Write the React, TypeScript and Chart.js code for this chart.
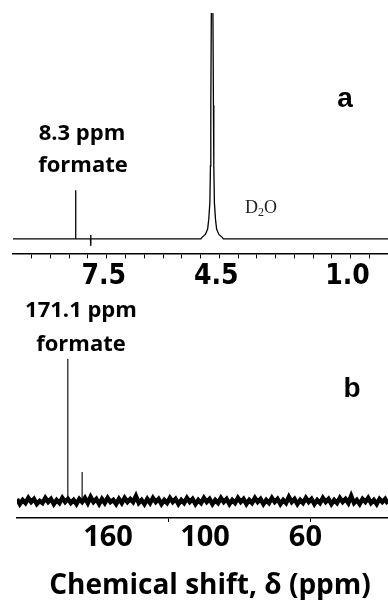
import React, { useEffect, useRef } from 'react';
import { Chart, registerables } from 'chart.js';

Chart.register(...registerables);

// ---------- Panel a: 1H NMR spectrum ----------
const aShift = [10.0, 8.4, 8.335, 8.33, 8.325, 7.935, 7.93, 7.925, 7.92, 4.99, 4.96, 4.87, 4.81, 4.78, 4.75, 4.735, 4.725, 4.705, 4.69, 4.675, 4.655, 4.645, 4.63, 4.6, 4.57, 4.51, 4.42, 4.39, 0.0];
const aIntensity = [0, 0, 0, 20, 0, 0, 1.6, -2.9, 0, 0, 0.6, 1.8, 4, 8, 15, 30, 55, 110, 160, 110, 55, 30, 15, 8, 4, 1.8, 0.6, 0, 0];
const aTickValues = [9.5, 9.0, 8.5, 8.0, 7.5, 7.0, 6.5, 6.0, 5.5, 5.0, 4.5, 4.0, 3.5, 3.0, 2.5, 2.0, 1.5, 1.0, 0.5];
const aTickLabels = ['7.5', '4.5', '1.0'];

// ---------- Panel b: 13C NMR spectrum ----------
const bNoiseShift = [
  207, 205, 203, 201, 199, 197, 195, 193, 191, 189,
  187, 185, 183, 181, 179, 177, 175, 173, 171, 169,
  167, 165, 163, 161, 159, 157, 155, 153, 151, 149,
  147, 145, 143, 141, 139, 137, 135, 133, 131, 129,
  127, 125, 123, 121, 119, 117, 115, 113, 111, 109,
  107, 105, 103, 101, 99, 97, 95, 93, 91, 89,
  87, 85, 83, 81, 79, 77, 75, 73, 71, 69,
  67, 65, 63, 61, 59, 57, 55, 53, 51, 49,
  47, 45, 43, 41, 39, 37, 35, 33, 31, 29,
  27, 25, 23, 21, 19, 17, 15, 13, 11, 9,
  7, 5, 3, 1, -1, -3, -5, -7, -9, -11,
  -13, -15, -17, -19, -21, -23, -25, -27, -29, -31,
  -33, -35, -37, -39, -41, -43, -45, -47, -49, -51,
  -53, -55,
];
const bNoise = [
  2, -3, 1, -2, 3, -1, 2, -3, 0, -2,
  3, -1, 2, -3, 1, -2, 3, -1, 2, -2,
  1, -3, 2, -1, 3, -2, 4, -1, 2, -3,
  2, -2, 3, -1, 1, -3, 2, -2, 3, -1,
  2, -1, 5, -2, 1, -3, 2, -2, 3, -1,
  2, -3, 1, -2, 3, -1, 2, -3, 1, -2,
  3, -1, 2, -3, 1, -2, 3, -1, 2, -3,
  1, -2, 3, -1, 2, -3, 1, -2, 3, -1,
  2, -3, 1, -2, 3, -1, 2, -3, 1, -2,
  3, -1, 2, -3, 1, -2, 4, -1, 2, -3,
  1, -2, 3, -1, 2, -3, 1, -2, 3, -1,
  2, -3, 1, -2, 3, -1, 2, -2, 5, -2,
  1, -3, 2, -1, 3, -2, 1, -3, 2, -1,
  2, -3,
];
const bPeakShift = [171.1, 161.0];
const bPeakHeight = [142, 29];
const bTickValues = [100, 0];
const bTickLabels = ['160', '100', '60'];
const bTickLabelAt = [142.7, 74.2, 3.3];

const LABEL_FONT = '"Open Sans", "DejaVu Sans", sans-serif';

function txt(ctx: CanvasRenderingContext2D, s: string, x: number, y: number, font: string, align: CanvasTextAlign = 'center', color = '#000') {
  ctx.save();
  ctx.font = font;
  ctx.fillStyle = color;
  ctx.textAlign = align;
  ctx.textBaseline = 'alphabetic';
  ctx.fillText(s, x, y);
  ctx.restore();
}

const annotA = {
  id: 'annotA',
  afterDraw(chart: any) {
    const ctx = chart.ctx as CanvasRenderingContext2D;
    txt(ctx, '8.3 ppm', 82, 140, `bold 22px ${LABEL_FONT}`);
    txt(ctx, 'formate', 83, 172, `bold 22px ${LABEL_FONT}`);
    txt(ctx, 'a', 345, 107, 'bold 28px "Liberation Sans", Arial, sans-serif');
    // D2O
    ctx.save();
    ctx.fillStyle = '#222';
    ctx.textBaseline = 'alphabetic';
    ctx.textAlign = 'left';
    ctx.font = '18px "Liberation Serif", serif';
    let x = 245;
    ctx.fillText('D', x, 213);
    x += ctx.measureText('D').width;
    ctx.font = '12px "Liberation Serif", serif';
    ctx.fillText('2', x, 216);
    x += ctx.measureText('2').width;
    ctx.font = '18px "Liberation Serif", serif';
    ctx.fillText('O', x, 213);
    ctx.restore();
  },
};

const annotB = {
  id: 'annotB',
  afterDraw(chart: any) {
    const ctx = chart.ctx as CanvasRenderingContext2D;
    const xs = chart.scales.x;
    txt(ctx, '171.1 ppm', 81, 27, `bold 22px ${LABEL_FONT}`);
    txt(ctx, 'formate', 81, 61, `bold 22px ${LABEL_FONT}`);
    txt(ctx, 'b', 352, 107, 'bold 28px "Liberation Sans", Arial, sans-serif');
    bTickLabels.forEach((lab, i) => {
      txt(ctx, lab, xs.getPixelForValue(bTickLabelAt[i]), 256, `bold 29px ${LABEL_FONT}`);
    });
    txt(ctx, 'Chemical shift, \u03b4 (ppm)', 210, 304, `bold 28px ${LABEL_FONT}`);
  },
};

export default function App() {
  const refA = useRef<HTMLCanvasElement>(null);
  const refB = useRef<HTMLCanvasElement>(null);

  useEffect(() => {
    const ca = new Chart(refA.current!, {
      type: 'line',
      data: {
        datasets: [
          {
            data: aShift.map((x, i) => ({ x, y: aIntensity[i] })),
            borderColor: '#000',
            borderWidth: 1.3,
            pointRadius: 0,
            tension: 0,
          },
        ],
      },
      options: {
        animation: false,
        responsive: false,
        devicePixelRatio: 1,
        events: [],
        layout: { padding: { top: 13, left: 13, right: 0, bottom: 4 } },
        plugins: { legend: { display: false }, tooltip: { enabled: false } },
        scales: {
          x: {
            type: 'linear',
            reverse: true,
            min: 0,
            max: 10,
            afterBuildTicks: (scale: any) => {
              scale.ticks = aTickValues.map((v) => ({ value: v }));
            },
            border: { display: true, color: '#000', width: 1.5 },
            grid: { display: true, drawOnChartArea: false, drawTicks: true, tickLength: 5, tickColor: '#000', tickWidth: 1 },
            ticks: {
              autoSkip: false,
              minRotation: 0,
              maxRotation: 0,
              padding: 2,
              labelOffset: -3,
              color: '#000',
              font: { family: '"DejaVu Sans Condensed", "DejaVu Sans", sans-serif', size: 28, weight: 'bold' },
              callback: (v: any) => {
                const s = Number(v).toFixed(1);
                return aTickLabels.includes(s) ? s : '';
              },
            },
          },
          y: { display: false, min: -6, max: 93 },
        },
      },
      plugins: [annotA],
    } as any);

    const peakPoints: { x: number; y: number | null }[] = [];
    bPeakShift.forEach((x, i) => {
      peakPoints.push({ x, y: 0 }, { x, y: bPeakHeight[i] }, { x, y: null });
    });

    const cb = new Chart(refB.current!, {
      type: 'line',
      data: {
        datasets: [
          {
            data: bNoiseShift.map((x, i) => ({ x, y: bNoise[i] })),
            borderColor: '#000',
            borderWidth: 4.5,
            borderJoinStyle: 'miter',
            pointRadius: 0,
            tension: 0,
          },
          {
            data: peakPoints,
            borderColor: '#000',
            borderWidth: 1.1,
            pointRadius: 0,
            tension: 0,
            spanGaps: false,
          },
        ],
      },
      options: {
        animation: false,
        responsive: false,
        devicePixelRatio: 1,
        events: [],
        layout: { padding: { top: 65, left: 17, right: 0, bottom: 78 } },
        plugins: { legend: { display: false }, tooltip: { enabled: false } },
        scales: {
          x: {
            type: 'linear',
            reverse: true,
            min: -55,
            max: 207,
            afterBuildTicks: (scale: any) => {
              scale.ticks = bTickValues.map((v) => ({ value: v }));
            },
            border: { display: true, color: '#000', width: 1.5 },
            grid: { display: true, drawOnChartArea: false, drawTicks: true, tickLength: 4, tickColor: '#000', tickWidth: 1 },
            ticks: { display: false },
          },
          y: { display: false, min: -17, max: 146 },
        },
      },
      plugins: [annotB],
    } as any);

    return () => {
      ca.destroy();
      cb.destroy();
    };
  }, []);

  return (
    <div style={{ position: 'absolute', left: 0, top: 0, width: 388, height: 600, background: '#fff' }}>
      <canvas ref={refA} width={388} height={300} style={{ position: 'absolute', left: 0, top: 0 }} />
      <canvas ref={refB} width={388} height={310} style={{ position: 'absolute', left: 0, top: 290 }} />
    </div>
  );
}
